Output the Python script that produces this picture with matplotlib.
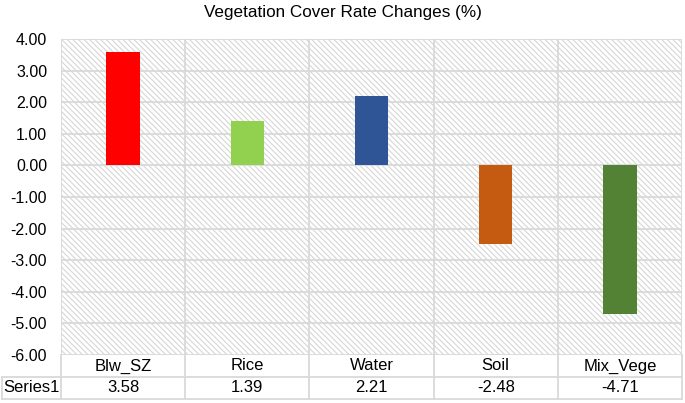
import matplotlib
matplotlib.use("Agg")
import matplotlib.pyplot as plt
from matplotlib.patches import Rectangle
from matplotlib.transforms import blended_transform_factory

categories = ["Blw_SZ", "Rice", "Water", "Soil", "Mix_Vege"]
values = [3.58, 1.39, 2.21, -2.48, -4.71]
colors = ["#FF0000", "#92D050", "#2F5597", "#C55A11", "#548235"]
series_name = "Series1"
title = "Vegetation Cover Rate Changes (%)"

plt.rcParams["font.family"] = ["Liberation Sans", "DejaVu Sans"]
plt.rcParams["hatch.linewidth"] = 0.8
plt.rcParams["hatch.color"] = "#D6D6D6"

W, H = 685, 403
fig = plt.figure(figsize=(W / 100, H / 100), dpi=100)
left, right, top, bottom = 61, 682, 39, 355
ax = fig.add_axes([left / W, 1 - bottom / H, (right - left) / W, (bottom - top) / H])

n = len(categories)
ax.set_xlim(0, n)
ax.set_ylim(-6, 4)

# hatched plot area background
ax.add_patch(Rectangle((0, 0), 1, 1, transform=ax.transAxes, facecolor="white",
                       edgecolor="#D6D6D6", hatch="\\" * 6, lw=0, zorder=0))

# gridlines
for y in range(-6, 5):
    ax.axhline(y, color="#D9D9D9", lw=1.3, zorder=1)
for x in range(n + 1):
    ax.axvline(x, color="#D9D9D9", lw=1.3, zorder=1)

xs = [i + 0.5 for i in range(n)]
ax.bar(xs, values, width=0.27, color=colors, zorder=2)

for s in ax.spines.values():
    s.set_visible(False)
ax.set_xticks([])
ax.set_yticks(range(-6, 5))
ax.set_yticklabels([f"{v:.2f}" for v in range(-6, 5)], fontsize=11.5)
ax.tick_params(axis="y", length=0, pad=10)

fig.suptitle(title, y=1 - 12 / H, fontsize=12.3, va="center")

# data table below the plot
ax_bottom = 1 - bottom / H
y1 = 1 - 377 / H
y2 = 1 - 399 / H
lc = "#D9D9D9"
fig.add_artist(plt.Line2D([left / W, right / W], [y1, y1], color=lc, lw=1.3))
fig.add_artist(plt.Line2D([2 / W, right / W], [y2, y2], color=lc, lw=1.3))
fig.add_artist(plt.Line2D([2 / W, left / W], [y1, y1], color=lc, lw=1.3))
fig.add_artist(plt.Line2D([2 / W, 2 / W], [y2, y1], color=lc, lw=1.3))
for x in range(n + 1):
    fx = (left + x * (right - left) / n) / W
    fig.add_artist(plt.Line2D([fx, fx], [y2, ax_bottom], color=lc, lw=1.3))

trans = blended_transform_factory(ax.transData, fig.transFigure)
for x, cat, v in zip(xs, categories, values):
    ax.text(x, (ax_bottom + y1) / 2, cat, transform=trans, ha="center", va="center",
            fontsize=12, clip_on=False)
    ax.text(x, (y1 + y2) / 2, f"{v:.2f}", transform=trans, ha="center", va="center",
            fontsize=12, clip_on=False)
fig.text((2 + left) / 2 / W, (y1 + y2) / 2, series_name, ha="center", va="center", fontsize=12)

fig.savefig("out.png", dpi=100)
